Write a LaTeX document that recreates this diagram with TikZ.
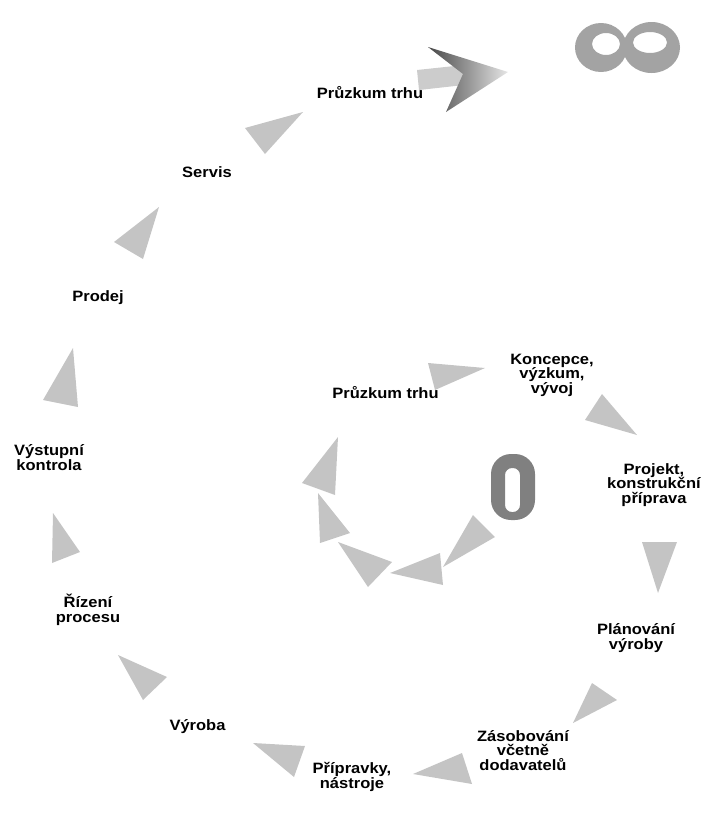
\documentclass[tikz,border=0pt]{standalone}
\usepackage{fontspec}
\setmainfont{Liberation Sans}[FakeStretch=1.1]
\definecolor{trigray}{gray}{0.77}
\definecolor{zerogray}{gray}{0.50}
\definecolor{infgray}{gray}{0.64}
\definecolor{shaftgray}{gray}{0.80}
\begin{document}
\begin{tikzpicture}[x=1pt,y=-1pt,
  lbl/.style={font=\bfseries\fontsize{15}{14.5}\selectfont, align=center,
              inner sep=0pt, anchor=base},
  tri/.style={fill=trigray}]
\useasboundingbox (0,0) rectangle (712,839);

% ---- stage labels, outer loop (anchored at the last baseline) ----
\node[lbl] (pt1) at (370,98.5) {Průzkum trhu};
\node[lbl] (serv) at (207,177) {Servis};
\node[lbl] (prod) at (98,301) {Prodej};
\node[lbl] (vyst) at (49,470) {Výstupní\\kontrola};
\node[lbl] (riz) at (88,622) {Řízení\\procesu};
\node[lbl] (vyr) at (197.5,730) {Výroba};
\node[lbl] (prip) at (352,788) {Přípravky,\\nástroje};
\node[lbl] (zas) at (523,770) {Zásobování\\včetně\\dodavatelů};
\node[lbl] (plan) at (636,649) {Plánování\\výroby};
\node[lbl] (proj) at (654,503) {Projekt,\\konstrukční\\příprava};
\node[lbl] (konc) at (552,393) {Koncepce,\\výzkum,\\vývoj};
\node[lbl] (pt0) at (385.5,398) {Průzkum trhu};

% ---- arrow triangles between the stages (tip first) ----
\fill[tri] (303,112) -- (245,128) -- (265,154) -- cycle;
\fill[tri] (159,207) -- (114,242) -- (143,259) -- cycle;
\fill[tri] (73,348) -- (43,400) -- (78,407) -- cycle;
\fill[tri] (53,513) -- (80,552) -- (52,563) -- cycle;
\fill[tri] (118,655) -- (167,677) -- (143,700) -- cycle;
\fill[tri] (253,743) -- (305,746) -- (294,777) -- cycle;
\fill[tri] (413,774) -- (462,753) -- (472,784) -- cycle;
\fill[tri] (573,723) -- (592,683) -- (617,700) -- cycle;
\fill[tri] (658,593) -- (642,542) -- (677,542) -- cycle;
\fill[tri] (637,435) -- (602,394) -- (585,420) -- cycle;
\fill[tri] (485,368) -- (428,363) -- (435,390) -- cycle;

% ---- inner loop starting at zero ----
\fill[tri] (443,567) -- (473,515) -- (495,537) -- cycle;
\fill[tri] (390,573) -- (440,553) -- (443,585) -- cycle;
\fill[tri] (338,542) -- (392,562) -- (368,587) -- cycle;
\fill[tri] (318,493) -- (350,533) -- (320,543) -- cycle;
\fill[tri] (338,437) -- (302,483) -- (335,495) -- cycle;

% ---- the zero ----
\fill[zerogray, even odd rule]
  [rounded corners=20pt] (491,454) rectangle (535,520)
  [rounded corners=7pt] (505,468) rectangle (520,512);

% ---- the infinity sign ----
\fill[infgray, even odd rule]
  (601,47.5) ellipse [x radius=26pt, y radius=24.5pt]
  (606,44) ellipse [x radius=14pt, y radius=11pt];
\fill[infgray, even odd rule]
  (651.5,47.5) ellipse [x radius=28.5pt, y radius=25.5pt]
  (650,42.5) ellipse [x radius=17pt, y radius=10.5pt];

% ---- the large arrow leaving the loop ----
\fill[shaftgray] (417,70) -- (464,65) -- (464,85) -- (419,90) -- cycle;
\shade[left color=black!72, right color=black!10]
  (428,47) -- (508,72) -- (446,112) -- (463,74) -- cycle;
\end{tikzpicture}
\end{document}
